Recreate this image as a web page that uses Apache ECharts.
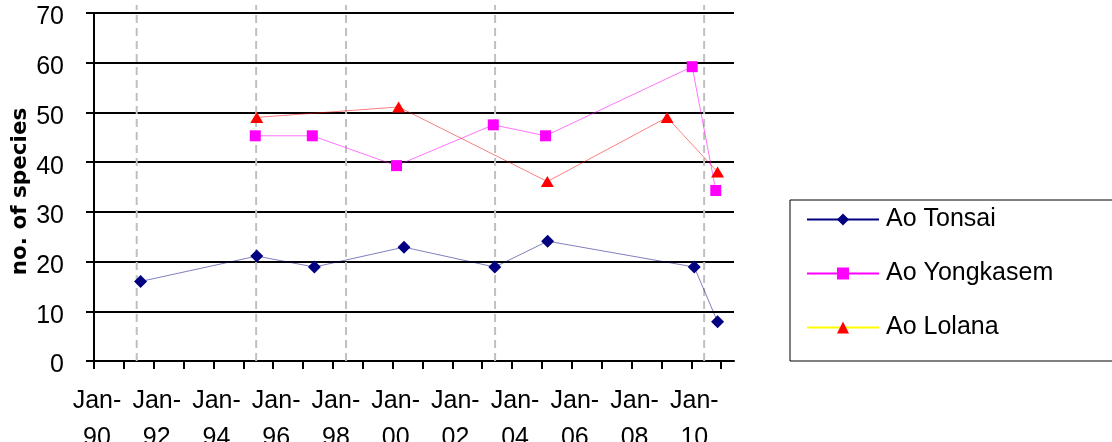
<!DOCTYPE html>
<html><head><meta charset="utf-8">
<script src="https://cdn.jsdelivr.net/npm/echarts@6/dist/echarts.min.js"></script>
<style>html,body{margin:0;padding:0;background:#fff}#c{width:1112px;height:442px}</style>
</head><body><div id="c"></div>
<script>
// ---- data ----
const xTickYears = [1990,1991,1992,1993,1994,1995,1996,1997,1998,1999,2000,2001,2002,2003,2004,2005,2006,2007,2008,2009,2010,2011];
const xLabelYears = [1990,1992,1994,1996,1998,2000,2002,2004,2006,2008,2010];
const eventX = [1991.43, 1995.43, 1998.44, 2003.43, 2010.43];

const tonsaiX = [1991.56, 1995.45, 1997.38, 2000.38, 2003.42, 2005.19, 2010.10, 2010.88];
const tonsaiY = [16, 21.1, 18.9, 22.9, 18.9, 24.1, 18.9, 7.9];

const yongX = [1995.40, 1997.31, 2000.13, 2003.37, 2005.12, 2010.03, 2010.82];
const yongY = [45.3, 45.3, 39.3, 47.5, 45.3, 59.2, 34.3];

const lolanaX = [1995.45, 2000.20, 2005.18, 2009.19, 2010.88];
const lolanaY = [49.0, 51.1, 36.1, 49.0, 38.0];

const seriesNames = ['Ao Tonsai', 'Ao Yongkasem', 'Ao Lolana'];

const zip = (xs, ys) => xs.map((x, i) => [x, ys[i]]);
const FONT = "'Liberation Sans', Arial, sans-serif";

const chart = echarts.init(document.getElementById('c'), null, {renderer: 'canvas'});
chart.setOption({
  animation: false,
  backgroundColor: '#fff',
  grid: {left: 94, top: 13, right: 378, bottom: 81, containLabel: false, outerBoundsMode: 'none'},
  xAxis: {
    type: 'value', min: 1990, max: 2011.43,
    axisLine: {lineStyle: {color: '#000', width: 2}},
    axisTick: {show: true, length: 8, customValues: xTickYears, lineStyle: {color: '#000', width: 2}},
    axisLabel: {
      customValues: xLabelYears, fontSize: 25, lineHeight: 37, margin: 22, color: '#000', fontFamily: FONT,
      hideOverlap: false, padding: [0, 0, 0, 6],
      formatter: v => 'Jan-\n' + String(Math.round(v)).slice(2)
    },
    splitLine: {show: false}
  },
  yAxis: {
    type: 'value', min: 0, max: 70, interval: 10,
    name: 'no. of species', nameLocation: 'middle', nameGap: 63, nameMoveOverlap: false,
    nameTextStyle: {fontFamily: "'DejaVu Sans', Verdana, sans-serif", fontWeight: 'bold', fontSize: 21.5, color: '#000', padding: [0, 9, 0, 0]},
    axisLine: {show: true, lineStyle: {color: '#000', width: 2}},
    axisTick: {show: true, length: 8, lineStyle: {color: '#000', width: 2}},
    axisLabel: {fontSize: 25, margin: 30, color: '#000', fontFamily: FONT, verticalAlign: 'top', lineHeight: 9},
    splitLine: {show: true, lineStyle: {color: '#000', width: 2}}
  },
  legend: {
    orient: 'vertical', left: 790, top: 200,
    padding: [7, 80, 21, 16],
    borderColor: '#000', borderWidth: 1,
    itemWidth: 72, itemHeight: 15, itemGap: 29,
    textStyle: {fontSize: 25, fontFamily: FONT, color: '#000', padding: [0, 0, 0, 2]},
    data: [
      {name: seriesNames[0], itemStyle: {color: '#000080'}, lineStyle: {color: '#000080', width: 2, opacity: 1}},
      {name: seriesNames[1], itemStyle: {color: '#ff00ff'}, lineStyle: {color: '#ff00ff', width: 2, opacity: 1}},
      {name: seriesNames[2], itemStyle: {color: '#ff0000'}, lineStyle: {color: '#ffff00', width: 2, opacity: 1}}
    ]
  },
  series: [
    {
      type: 'custom', silent: true, z: 1,
      data: eventX.map(x => [x, 0]),
      encode: {x: 0, y: 1},
      renderItem: (params, api) => {
        const x = api.value(0);
        const p0 = api.coord([x, 0]);
        const p1 = api.coord([x, 71.6]);
        return {type: 'line', shape: {x1: p0[0], y1: p0[1], x2: p1[0], y2: p1[1]},
          style: {stroke: '#c0c0c0', lineWidth: 2, lineDash: [8, 5]}};
      }
    },
    {
      name: seriesNames[0], type: 'line', z: 3,
      data: zip(tonsaiX, tonsaiY),
      symbol: 'diamond', symbolSize: 13,
      itemStyle: {color: '#000080'},
      lineStyle: {color: '#000080', width: 1, opacity: 0.5}
    },
    {
      name: seriesNames[1], type: 'line', z: 3,
      data: zip(yongX, yongY),
      symbol: 'rect', symbolSize: 11,
      itemStyle: {color: '#ff00ff'},
      lineStyle: {color: '#ff00ff', width: 1, opacity: 0.55}
    },
    {
      name: seriesNames[2], type: 'line', z: 3,
      data: zip(lolanaX, lolanaY),
      symbol: 'triangle', symbolSize: [13, 11],
      itemStyle: {color: '#ff0000'},
      lineStyle: {color: '#ff0000', width: 1, opacity: 0.5}
    }
  ]
});
</script>
</body></html>
